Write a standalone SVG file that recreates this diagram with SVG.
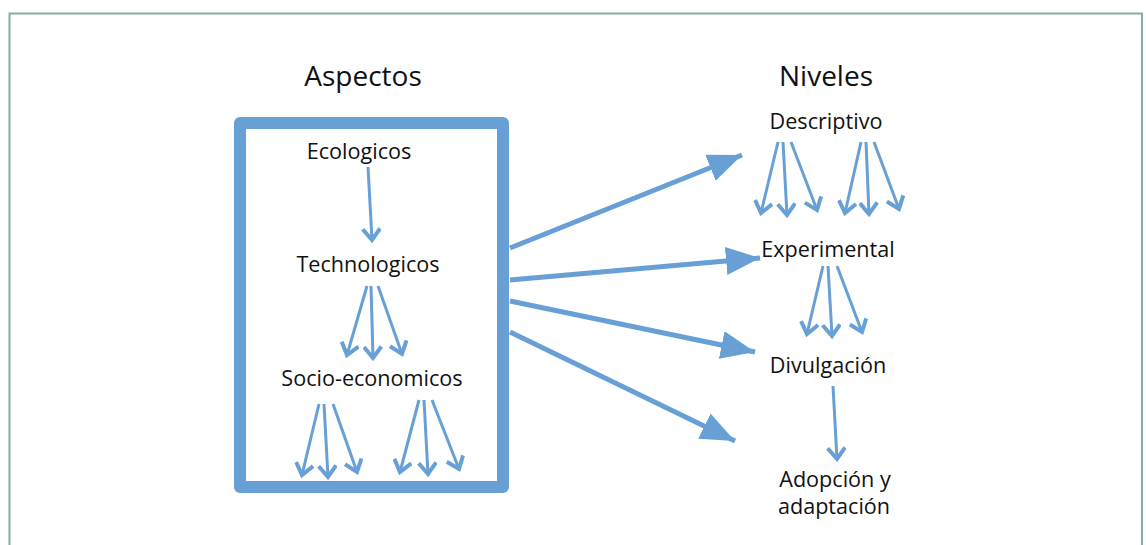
<svg xmlns="http://www.w3.org/2000/svg" width="1146" height="545" viewBox="0 0 1146 545">
<style>
  .t { font-family: "Open Sans", "Liberation Sans", sans-serif; font-size: 21.6px; fill: #111; text-anchor: middle; }
  .h { font-family: "Open Sans", "Liberation Sans", sans-serif; font-size: 28px; fill: #111; text-anchor: middle; }
  .sm { stroke: #68a0d6; stroke-width: 3; fill: none; marker-end: url(#chev); }
  .big { stroke: #68a0d6; stroke-width: 5; fill: none; marker-end: url(#tri); }
</style>
<defs>
  <marker id="chev" markerUnits="userSpaceOnUse" markerWidth="20" markerHeight="20" refX="11" refY="8" orient="auto" viewBox="0 0 14 16">
    <path d="M2,1 L11,8 L2,15" fill="none" stroke="#68a0d6" stroke-width="3.2" stroke-linejoin="miter"/>
  </marker>
  <marker id="tri" markerUnits="userSpaceOnUse" markerWidth="36" markerHeight="30" refX="34" refY="14" orient="auto" viewBox="0 0 36 28">
    <path d="M0,0 L34,14 L0,28 Z" fill="#68a0d6"/>
  </marker>
</defs>
<rect width="1146" height="545" fill="#ffffff"/>
<path d="M9.5,560 L9.5,13.5 L1142,13.5 L1142,560" fill="none" stroke="#86aca6" stroke-width="2"/>

<g id="aspectos-title"><text class="h" x="363" y="86">Aspectos</text></g>
<g id="niveles-title"><text class="h" x="826" y="86">Niveles</text></g>

<g id="aspectos-box">
  <rect x="240" y="123" width="263" height="364" fill="none" stroke="#68a0d6" stroke-width="12" stroke-linejoin="round"/>
</g>
<g id="ecologicos"><text class="t" x="359" y="159">Ecologicos</text></g>
<g id="technologicos"><text class="t" x="368" y="272">Technologicos</text></g>
<g id="socio-economicos"><text class="t" x="372" y="386">Socio-economicos</text></g>
<g id="descriptivo"><text class="t" x="826" y="129">Descriptivo</text></g>
<g id="experimental"><text class="t" x="828" y="257">Experimental</text></g>
<g id="divulgacion"><text class="t" x="828" y="373">Divulgación</text></g>
<g id="adopcion"><text class="t" x="835" y="487">Adopción y</text><text class="t" x="834" y="514">adaptación</text></g>

<g id="connectors">
  <path class="sm" d="M368,167 L372,240"/>
  <path class="sm" d="M367,286 L347,355"/>
  <path class="sm" d="M371,286 L373,358"/>
  <path class="sm" d="M378,286 L402,354"/>

  <path class="sm" d="M319,404 L302,475"/>
  <path class="sm" d="M324,404 L328,477"/>
  <path class="sm" d="M333,404 L357,472"/>
  <path class="sm" d="M419,400 L400,472"/>
  <path class="sm" d="M424,400 L428,474"/>
  <path class="sm" d="M432,400 L459,469"/>

  <path class="sm" d="M778,142 L761,213"/>
  <path class="sm" d="M783,142 L787,215"/>
  <path class="sm" d="M791,142 L817,210"/>
  <path class="sm" d="M861,142 L845,213"/>
  <path class="sm" d="M866,142 L869,214"/>
  <path class="sm" d="M874,142 L899,209"/>

  <path class="sm" d="M823,266 L807,334"/>
  <path class="sm" d="M828,266 L832,336"/>
  <path class="sm" d="M837,266 L862,332"/>

  <path class="sm" d="M833,386 L837,459"/>

  <path class="big" d="M510,248 L742,155"/>
  <path class="big" d="M510,280 L760,258"/>
  <path class="big" d="M510,301 L755,352"/>
  <path class="big" d="M510,332 L735,441"/>
</g>
</svg>
